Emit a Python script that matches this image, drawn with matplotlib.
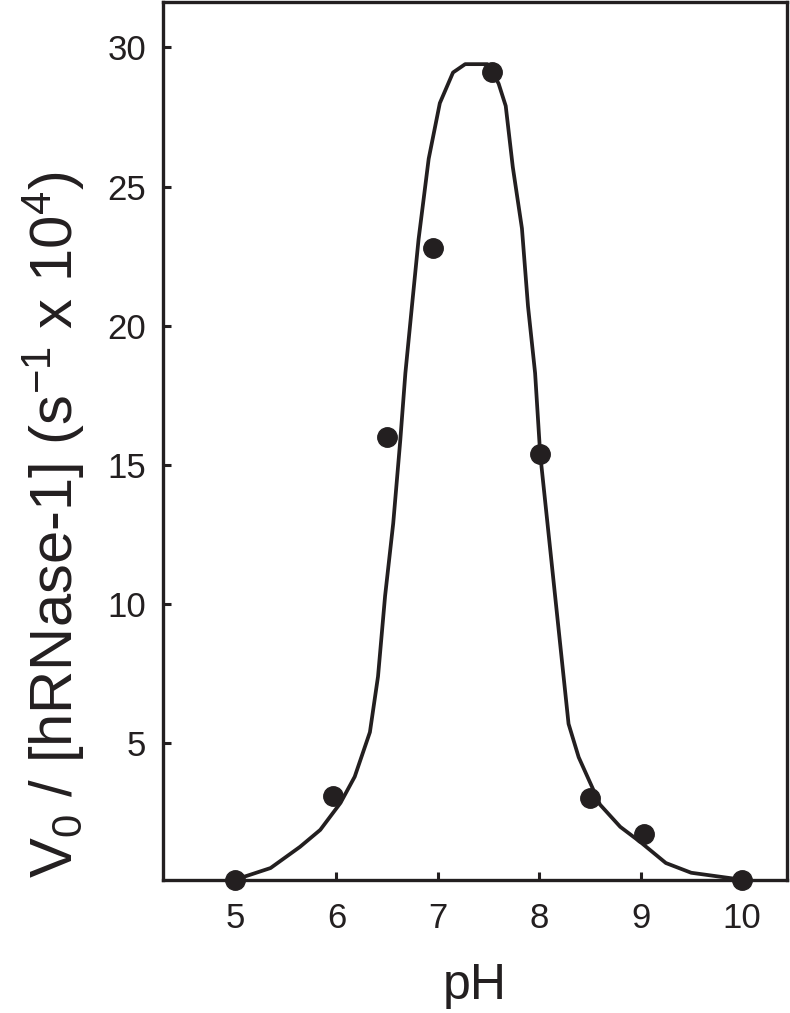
import numpy as np
import matplotlib
matplotlib.use('Agg')
import matplotlib.pyplot as plt

# measured points
ph_pts = [5.0, 5.97, 6.5, 6.955, 7.53, 8.01, 8.5, 9.03, 10.0]
v_pts = [0.1, 3.1, 16.0, 22.8, 29.1, 15.4, 3.05, 1.75, 0.1]

# fitted curve
ph_fit = [5.0, 5.35, 5.64, 5.84, 6.04, 6.18, 6.33, 6.41, 6.48, 6.56, 6.63, 6.68,
          6.75, 6.81, 6.91, 7.02, 7.15, 7.27, 7.49, 7.54, 7.6, 7.67, 7.74, 7.83, 7.89,
          7.96, 8.01, 8.29, 8.39, 8.6, 8.8, 9.0, 9.25, 9.5, 10.0]
v_fit = [0.1, 0.52, 1.28, 1.89, 2.86, 3.8, 5.4, 7.4, 10.3, 12.9, 15.9, 18.3,
         20.9, 23.1, 26.0, 28.0, 29.1, 29.4, 29.4, 29.1, 28.7, 27.9, 25.7, 23.5, 20.7,
         18.3, 15.4, 5.7, 4.5, 2.8, 2.0, 1.45, 0.7, 0.35, 0.1]

xticks = [5, 6, 7, 8, 9, 10]
yticks = [5, 10, 15, 20, 25, 30]

plt.rcParams['font.family'] = ['Liberation Sans', 'DejaVu Sans']
plt.rcParams['mathtext.fontset'] = 'custom'
plt.rcParams['mathtext.rm'] = 'Liberation Sans'
plt.rcParams['mathtext.it'] = 'Liberation Sans'

col = '#231f20'

fig = plt.figure(figsize=(7.9, 10.13), dpi=100)
ax = fig.add_axes([0.206, 0.1313, 0.7908, 0.8672])

ax.plot(ph_fit, v_fit, c=col, lw=2.7, solid_joinstyle='round')
ax.plot(ph_pts, v_pts, c=col, marker='o', markersize=14, linestyle='None', clip_on=False, zorder=3)

ax.set_xlim(4.286, 10.45)
ax.set_ylim(0.09, 31.65)
ax.set_xticks(xticks)
ax.set_yticks(yticks)
ax.tick_params(axis='both', direction='in', length=6, width=2.2, color=col,
               labelsize=25, labelcolor=col)
ax.tick_params(axis='x', pad=16)
ax.tick_params(axis='y', pad=12)
for s in ax.spines.values():
    s.set_linewidth(2.4)
    s.set_color(col)

ax.set_xlabel('pH', fontsize=36, color=col)
ax.set_ylabel(r'V$_0$ / [hRNase-1] (s$^{-1}$ x 10$^4$)', fontsize=43, color=col)
ax.yaxis.set_label_coords(-0.122, 0.404)
ax.xaxis.set_label_coords(0.5, -0.095)

fig.savefig('out.png', dpi=100)
